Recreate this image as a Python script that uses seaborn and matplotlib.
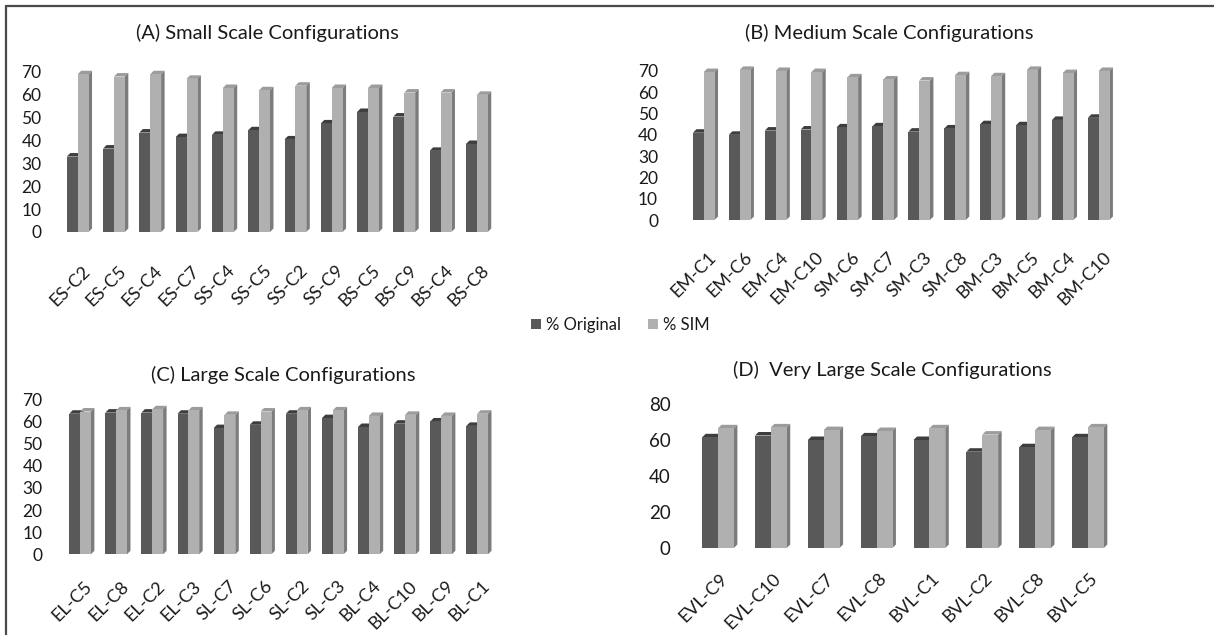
import matplotlib
matplotlib.use("Agg")
import matplotlib.pyplot as plt
from matplotlib.patches import Polygon, Patch
from matplotlib.lines import Line2D
from matplotlib.transforms import ScaledTranslation
import seaborn as sns
import pandas as pd

# ---- data -------------------------------------------------------------
series_names = ["% Original", "% SIM"]

small_cfg = ["ES-C2", "ES-C5", "ES-C4", "ES-C7", "SS-C4", "SS-C5",
             "SS-C2", "SS-C9", "BS-C5", "BS-C9", "BS-C4", "BS-C8"]
small_orig = [33, 36.5, 43.5, 41.5, 42.5, 44.5, 40.5, 47.5, 52.5, 50.5, 35.5, 38.5]
small_sim = [69, 68, 69, 67, 63, 62, 64, 63, 63, 61, 61, 60]

medium_cfg = ["EM-C1", "EM-C6", "EM-C4", "EM-C10", "SM-C6", "SM-C7",
              "SM-C3", "SM-C8", "BM-C3", "BM-C5", "BM-C4", "BM-C10"]
medium_orig = [41, 40, 42, 42.5, 43.5, 44, 41.5, 43, 45, 44.5, 47, 48]
medium_sim = [69.5, 70.5, 70, 69.5, 67, 66, 65.5, 68, 67.5, 70.5, 69, 70]

large_cfg = ["EL-C5", "EL-C8", "EL-C2", "EL-C3", "SL-C7", "SL-C6",
             "SL-C2", "SL-C3", "BL-C4", "BL-C10", "BL-C9", "BL-C1"]
large_orig = [63.5, 64, 64, 63.5, 57, 58.5, 63.5, 61.5, 57.5, 59, 60, 58]
large_sim = [64.5, 65, 65.5, 65, 63, 64.5, 65, 65, 62.5, 63, 62.5, 63.5]

vlarge_cfg = ["EVL-C9", "EVL-C10", "EVL-C7", "EVL-C8",
              "BVL-C1", "BVL-C2", "BVL-C8", "BVL-C5"]
vlarge_orig = [61.5, 62.5, 60, 62, 60, 53.5, 56, 61.5]
vlarge_sim = [66.5, 67, 65.5, 65, 66.5, 63, 65.5, 67]

titles = ["(A) Small Scale Configurations", "(B) Medium Scale Configurations",
          "(C) Large Scale Configurations", "(D)  Very Large Scale Configurations"]

# ---- style ------------------------------------------------------------
sns.set_theme(style="white")
plt.rcParams["font.family"] = ["Lato", "DejaVu Sans"]
plt.rcParams["text.color"] = "#1a1a1a"

DARK, LIGHT = "#595959", "#b0b0b0"
DARK_TOP, LIGHT_TOP, LIGHT_SIDE, DARK_SIDE = "#3e3e3e", "#9c9c9c", "#7c7c7c", "#444444"

W, H = 1214, 635
fig = plt.figure(figsize=(W / 100, H / 100), dpi=100)
fig.patch.set_facecolor("white")


def axes_px(left, right, top, bottom):
    return fig.add_axes([left / W, 1 - bottom / H, (right - left) / W, (bottom - top) / H])


def long_frame(cfg, orig, sim):
    return pd.DataFrame({
        "config": cfg * 2,
        "value": orig + sim,
        "series": [series_names[0]] * len(cfg) + [series_names[1]] * len(cfg),
    })


def add_depth(ax, n, ymax, depth_px=3.5):
    """Give each bar a top face and a right side face for a 3-D look."""
    bbox = ax.get_window_extent()
    ux = depth_px / (bbox.width / n)
    uy = depth_px / (bbox.height / ymax)
    for p in list(ax.patches):
        x0, w, h = p.get_x(), p.get_width(), p.get_height()
        light = p.get_facecolor()[0] > 0.5
        top_c = LIGHT_TOP if light else DARK_TOP
        side_c = LIGHT_SIDE if light else DARK_SIDE
        top = Polygon([(x0, h), (x0 + w, h), (x0 + w + ux, h + uy), (x0 + ux, h + uy)],
                      closed=True, facecolor=top_c, edgecolor="none", zorder=1.5, clip_on=False)
        side = Polygon([(x0 + w, 0), (x0 + w + ux, uy), (x0 + w + ux, h + uy), (x0 + w, h)],
                       closed=True, facecolor=side_c, edgecolor="none", zorder=1.5, clip_on=False)
        ax.add_patch(top)
        ax.add_patch(side)
        p.set_zorder(2)


def panel(ax, cfg, orig, sim, ymax, yticks, ypad, ysize, xpad, xshift):
    df = long_frame(cfg, orig, sim)
    sns.barplot(data=df, x="config", y="value", hue="series", palette=[DARK, LIGHT],
                width=0.6, gap=0, saturation=1, edgecolor="none", linewidth=0,
                legend=False, ax=ax)
    n = len(cfg)
    ax.set_xlim(-0.5, n - 0.5)
    ax.set_ylim(0, ymax)
    ax.set_yticks(yticks)
    ax.set_xlabel("")
    ax.set_ylabel("")
    sns.despine(ax=ax, left=True, bottom=True)
    ax.tick_params(axis="both", length=0)
    ax.tick_params(axis="y", pad=ypad, labelsize=ysize, labelcolor="#1a1a1a")
    ax.tick_params(axis="x", pad=xpad, labelsize=13, labelcolor="#1a1a1a")
    ax.set_xticks(range(n))
    ax.set_xticklabels(cfg, rotation=45, ha="right", rotation_mode="anchor")
    shift = ScaledTranslation(xshift / 72, 0, fig.dpi_scale_trans)
    for lab in ax.get_xticklabels():
        lab.set_transform(lab.get_transform() + shift)
    ax.patch.set_alpha(0)
    add_depth(ax, n, ymax)


ax_a = axes_px(59.5, 495.0, 67.4, 232.0)
panel(ax_a, small_cfg, small_orig, small_sim, 72, range(0, 71, 10), 13, 12.5, 22, 3)

ax_b = axes_px(685.8, 1116.6, 66.7, 220.0)
panel(ax_b, medium_cfg, medium_orig, medium_sim, 72, range(0, 71, 10), 20, 12.5, 21, 3)

ax_c = axes_px(62.0, 495.2, 394.9, 554.3)
panel(ax_c, large_cfg, large_orig, large_sim, 72, range(0, 71, 10), 14, 12.5, 17, 3)

ax_d = axes_px(691.6, 1114.4, 404.0, 548.0)
panel(ax_d, vlarge_cfg, vlarge_orig, vlarge_sim, 80, range(0, 81, 20), 15, 13.5, 16, 1)

# panel titles
for (tx, ty), t in zip([(267, 33), (889, 33), (283, 375), (892, 370)], titles):
    fig.text(tx / W, 1 - ty / H, t, ha="center", va="center", fontsize=14.5, color="#1a1a1a")

# shared legend
handles = [Patch(facecolor=DARK, edgecolor="none"), Patch(facecolor=LIGHT, edgecolor="none")]
fig.legend(handles, series_names, loc="center", bbox_to_anchor=(620 / W, 1 - 325 / H),
           ncol=2, frameon=False, fontsize=12, handlelength=0.6, handleheight=0.6,
           handletextpad=0.3, columnspacing=1.6)

# outer frame (left and top edges)
fig.add_artist(Line2D([6 / W, 6 / W], [0, 1 - 6 / H], color="#4a4a4a", lw=1.6))
fig.add_artist(Line2D([6 / W, 1], [1 - 6 / H, 1 - 6 / H], color="#4a4a4a", lw=1.6))

fig.savefig("out.png", dpi=100)
